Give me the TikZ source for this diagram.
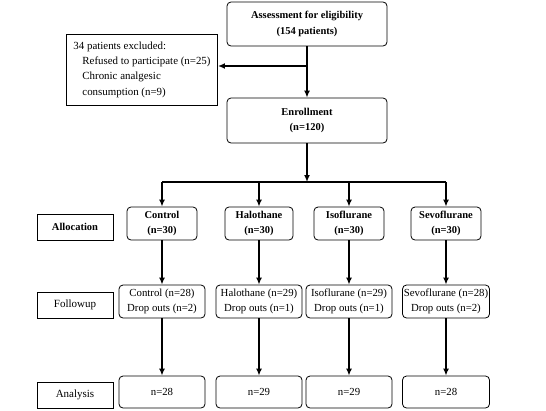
\documentclass[tikz,border=0pt]{standalone}
\usepackage{fontspec}
\setmainfont{Liberation Serif}
\usetikzlibrary{arrows.meta}
\begin{document}
\begin{tikzpicture}[x=1pt,y=-1pt,
  box/.style={draw,rounded corners=4pt,line width=0.8pt,align=center,inner sep=0.5pt,
    font=\fontsize{10.8}{15.5}\selectfont},
  boldbox/.style={box,font=\fontsize{10.5}{15.5}\selectfont\bfseries},
  lbl/.style={draw,line width=0.8pt,align=center,minimum width=76pt,minimum height=26pt,inner sep=1pt,
    font=\fontsize{11}{15.5}\selectfont},
  conn/.style={line width=1.6pt},
  arr/.style={line width=1.6pt,-{Latex[length=7pt,width=6pt]}}]
\useasboundingbox (0,0) rectangle (546,410);
% top
\node[boldbox,minimum width=160pt,minimum height=44pt] (assess) at (307,24) {Assessment for eligibility\\(154 patients)};
\node[draw,line width=0.8pt,inner xsep=7pt,align=left,minimum width=146pt,minimum height=71pt,
  font=\fontsize{10.9}{15.3}\selectfont] (excl) at (142,69.5)
  {34 patients excluded:\\\hspace*{9pt}Refused to participate (n=25)\\\hspace*{9pt}Chronic analgesic\\\hspace*{9pt}consumption (n=9)};
\node[boldbox,minimum width=160pt,minimum height=45pt] (enroll) at (307,120.5) {Enrollment\\(n=120)};
\coordinate (split) at (307,182);
\coordinate (exclj) at (307,66);
% labels
\node[lbl,font=\fontsize{10.5}{15.5}\selectfont\bfseries] (lalloc) at (75,227) {Allocation};
\node[lbl] (lfollow) at (75,305) {Followup};
\node[lbl] (lanal) at (75,395) {Analysis};
% allocation
\node[boldbox,minimum width=70pt,minimum height=33pt] (a1) at (162,223.5) {Control\\(n=30)};
\node[boldbox,minimum width=68pt,minimum height=33pt] (a2) at (259,223.5) {Halothane\\(n=30)};
\node[boldbox,minimum width=70pt,minimum height=33pt] (a3) at (349,223.5) {Isoflurane\\(n=30)};
\node[boldbox,minimum width=70pt,minimum height=33pt] (a4) at (446,223.5) {Sevoflurane\\(n=30)};
% follow up
\node[box,minimum width=86pt,minimum height=33pt] (f1) at (162,301.5) {Control (n=28)\\Drop outs (n=2)};
\node[box,minimum width=86pt,minimum height=33pt] (f2) at (259,301.5) {Halothane (n=29)\\Drop outs (n=1)};
\node[box,minimum width=86pt,minimum height=33pt] (f3) at (349,301.5) {Isoflurane (n=29)\\Drop outs (n=1)};
\node[box,minimum width=87pt,minimum height=33pt] (f4) at (446,301.5) {Sevoflurane (n=28)\\Drop outs (n=2)};
% analysis
\node[box,minimum width=86pt,minimum height=32pt] (n1) at (162,392) {n=28};
\node[box,minimum width=86pt,minimum height=32pt] (n2) at (259,392) {n=29};
\node[box,minimum width=86pt,minimum height=32pt] (n3) at (349,392) {n=29};
\node[box,minimum width=87pt,minimum height=32pt] (n4) at (446,392) {n=28};
% connectors
\draw[arr] (assess.south) -- (enroll.north);
\draw[arr] (exclj) -- (excl.east |- exclj);
\draw[arr] (enroll.south) -- (split);
\draw[conn] (a1.north |- split) -- (a4.north |- split);
\foreach \i in {1,2,3,4}{
  \draw[arr] (a\i.north |- split) -- (a\i.north);
  \draw[arr] (a\i.south) -- (f\i.north);
  \draw[arr] (f\i.south) -- (n\i.north);
}
\end{tikzpicture}
\end{document}
